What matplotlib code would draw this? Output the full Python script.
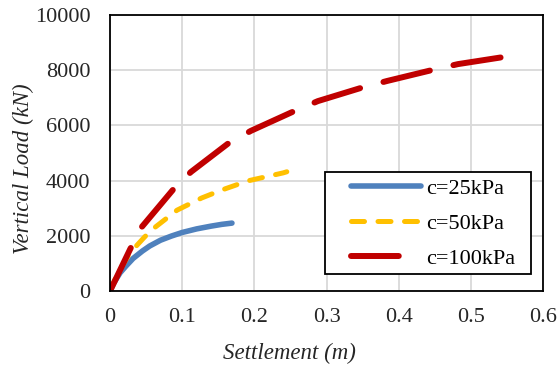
import matplotlib
matplotlib.use("Agg")
import matplotlib.pyplot as plt
from matplotlib.patches import Rectangle

x_25 = [0.0, 0.005, 0.014, 0.022, 0.032, 0.045, 0.055, 0.07, 0.085, 0.1, 0.12, 0.14, 0.155, 0.169]
y_25 = [0, 280, 660, 900, 1180, 1450, 1630, 1840, 1990, 2120, 2250, 2350, 2415, 2460]

x_50 = [0.0, 0.01, 0.028, 0.035, 0.048, 0.062, 0.093, 0.127, 0.155, 0.191, 0.24, 0.245]
y_50 = [0, 600, 1400, 1590, 1960, 2300, 2930, 3370, 3660, 3990, 4280, 4320]

x_100 = [0.0, 0.028, 0.044, 0.087, 0.112, 0.163, 0.195, 0.253, 0.288, 0.348, 0.384, 0.447, 0.482, 0.546]
y_100 = [0, 1520, 2320, 3660, 4310, 5330, 5800, 6490, 6880, 7360, 7610, 8010, 8220, 8480]

labels = ["c=25kPa", "c=50kPa", "c=100kPa"]
xticks = [0, 0.1, 0.2, 0.3, 0.4, 0.5, 0.6]
yticks = [0, 2000, 4000, 6000, 8000, 10000]

plt.rcParams['font.family'] = ['Liberation Serif', 'DejaVu Serif']
W, H = 559, 365
fig = plt.figure(figsize=(W / 100, H / 100), dpi=100)
ax = fig.add_axes([110 / W, 1 - 291 / H, 433 / W, 276 / H])

ax.plot(x_25, y_25, color='#4f81bd', lw=4.0, solid_capstyle='round', label=labels[0])
ax.plot(x_50, y_50, color='#ffc000', lw=3.6, dashes=(2.6, 2.7), dash_capstyle='round', label=labels[1])
ax.plot(x_100, y_100, color='#c00000', lw=4.3, dashes=(8.0, 4.05), dash_capstyle='round', label=labels[2])

ax.set_xlim(0, 0.6)
ax.set_ylim(0, 10000)
ax.set_xticks(xticks)
ax.set_xticklabels(["0"] + [str(t) for t in xticks[1:]])
ax.set_yticks(yticks)
ax.grid(True, color='#d9d9d9', lw=1.3)
ax.set_axisbelow(True)
for s in ax.spines.values():
    s.set_color('black')
    s.set_linewidth(1.3)
ax.tick_params(axis='y', length=0, labelsize=16, pad=14, colors='#262626')
ax.tick_params(axis='x', length=0, labelsize=16, pad=12, colors='#262626')
ax.set_xlabel('Settlement (m)', style='italic', fontsize=16.5, labelpad=12, color='#262626')
ax.set_ylabel('Vertical Load (kN)', style='italic', fontsize=16.5, labelpad=1, color='#262626')
ax.xaxis.label.set_x(0.415)
ax.yaxis.label.set_y(0.442)

frame = Rectangle((325 / W, 1 - 274 / H), 206 / W, 102 / H, transform=fig.transFigure,
                  facecolor='white', edgecolor='black', lw=1.3, zorder=5, clip_on=False)
ax.add_patch(frame)
leg = ax.legend(loc='upper left', bbox_to_anchor=(351 / W, 1 - 178 / H), bbox_transform=fig.transFigure,
                fontsize=16, frameon=False, handlelength=3.15, handletextpad=0.25,
                borderpad=0, labelspacing=0.66, borderaxespad=0)
leg.set_zorder(6)

fig.savefig('out.png', dpi=100)
